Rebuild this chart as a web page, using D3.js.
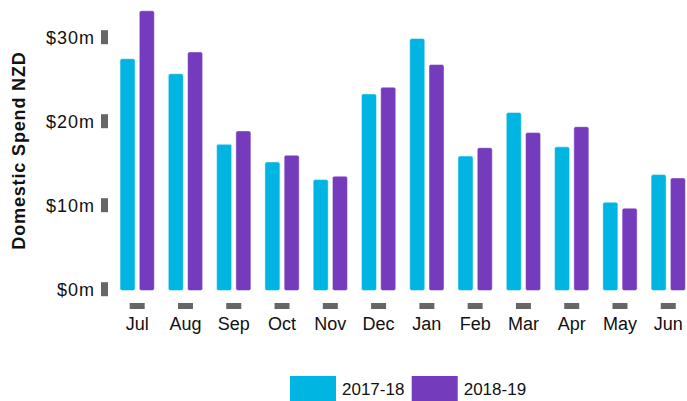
<!DOCTYPE html>
<html>
<head>
<meta charset="utf-8">
<script src="https://cdn.jsdelivr.net/npm/d3@7"></script>
<style>
  body { margin: 0; background: #fff; }
  text { font-family: "Liberation Sans", Arial, sans-serif; fill: #111; }
</style>
</head>
<body>
<script>
// datos
var meses = ["Jul", "Aug", "Sep", "Oct", "Nov", "Dec", "Jan", "Feb", "Mar", "Apr", "May", "Jun"];
var series = ["2017-18", "2018-19"];
var gasto1718 = [27.6, 25.8, 17.4, 15.3, 13.2, 23.4, 30.0, 16.0, 21.2, 17.1, 10.5, 13.8];
var gasto1819 = [33.3, 28.4, 19.0, 16.1, 13.6, 24.2, 26.9, 17.0, 18.8, 19.5, 9.8, 13.4];
var ticksY = [0, 10, 20, 30];
var colores = ["#00b5e2", "#753bbd"];

var ancho = 687, alto = 401;

var svg = d3.select("body")
  .append("svg")
  .attr("width", ancho)
  .attr("height", alto);

// escalas
var x0 = d3.scaleBand()
  .domain(meses)
  .range([113.05, 113.05 + 12 * 48.28])
  .paddingInner(0.29)
  .paddingOuter(0.145);

var x1 = d3.scaleBand()
  .domain(series)
  .range([0, x0.bandwidth()])
  .paddingInner(0.22);

var escalaY = d3.scaleLinear()
  .domain([0, 34])
  .range([290.5, 4.9]);

var color = d3.scaleOrdinal().domain(series).range(colores);

// barras
var filas = meses.map(function(m, i) {
  return { mes: m, valores: [gasto1718[i], gasto1819[i]] };
});

var grupos = svg.selectAll("g.grupo")
  .data(filas)
  .enter()
  .append("g")
  .attr("class", "grupo")
  .attr("transform", function(d) { return "translate(" + x0(d.mes) + ",0)"; });

grupos.selectAll("rect")
  .data(function(d) { return d.valores.map(function(v, j) { return { serie: series[j], valor: v }; }); })
  .enter()
  .append("rect")
  .attr("x", function(d) { return x1(d.serie); })
  .attr("y", function(d) { return escalaY(d.valor); })
  .attr("width", x1.bandwidth())
  .attr("height", function(d) { return escalaY(0) - escalaY(d.valor); })
  .attr("rx", 2)
  .attr("fill", function(d) { return color(d.serie); })
  .attr("stroke", "rgba(255,255,255,0.45)")
  .attr("stroke-width", 1);

// eje Y
var ejeY = svg.append("g")
  .attr("transform", "translate(108,-1.8)")
  .call(d3.axisLeft(escalaY)
    .tickValues(ticksY)
    .tickSize(7)
    .tickPadding(6)
    .tickFormat(function(d) { return "$" + d + "m"; }));
ejeY.select(".domain").remove();
ejeY.selectAll("line").attr("stroke", "#666").attr("stroke-width", 14);
ejeY.selectAll("text").attr("font-size", 18).attr("fill", "#111")
  .attr("dy", "0.36em")
  .style("letter-spacing", "1px")
  .style("font-family", "Liberation Sans, Arial, sans-serif");

// eje X
var ejeX = svg.append("g")
  .attr("transform", "translate(0,303)")
  .call(d3.axisBottom(x0).tickSize(6).tickPadding(8).tickSizeOuter(0));
ejeX.select(".domain").remove();
ejeX.selectAll("line").attr("stroke", "#666").attr("stroke-width", 15);
ejeX.selectAll("text").attr("font-size", 18).attr("fill", "#111")
  .style("font-family", "Liberation Sans, Arial, sans-serif");

// titulo eje Y
svg.append("text")
  .attr("transform", "translate(24.5,150.5) rotate(-90)")
  .attr("text-anchor", "middle")
  .attr("font-size", 18)
  .attr("font-weight", "bold")
  .style("letter-spacing", "0.85px")
  .text("Domestic Spend NZD");

// leyenda
var leyendaX = [290, 411.7];
var leyenda = svg.selectAll("g.leyenda")
  .data(series)
  .enter()
  .append("g")
  .attr("class", "leyenda")
  .attr("transform", function(d, i) { return "translate(" + leyendaX[i] + ",376)"; });

leyenda.append("rect")
  .attr("width", 46)
  .attr("height", 25)
  .attr("fill", function(d) { return color(d); });

leyenda.append("text")
  .attr("x", 52)
  .attr("y", 19)
  .attr("font-size", 17)
  .text(function(d) { return d; });
</script>
</body>
</html>
